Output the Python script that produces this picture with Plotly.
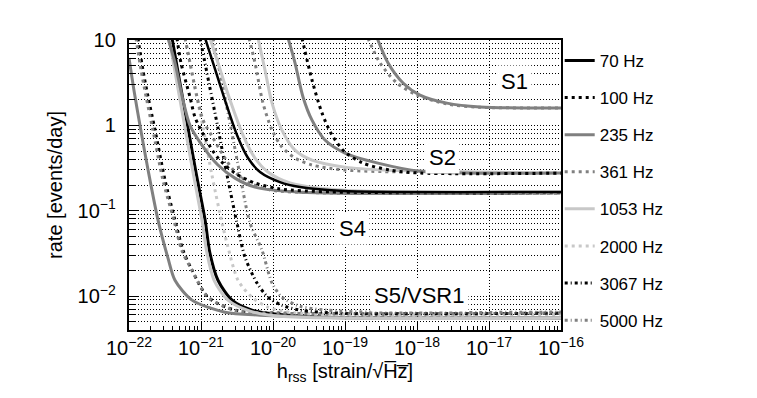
import plotly.graph_objects as go

FREQS = ["70 Hz", "100 Hz", "235 Hz", "361 Hz", "1053 Hz", "2000 Hz", "3067 Hz", "5000 Hz"]

# ---- S5/VSR1 ----
S5_70_H = [3.96e-22, 5.1e-22, 6.6e-22, 8.5e-22, 1.14e-21, 1.33e-21, 1.72e-21, 2.7e-21, 5.1e-21, 1.07e-20, 5.27e-20, 1e-16]
S5_70_R = [10.5, 3.13, 0.93, 0.284, 0.0776, 0.0318, 0.0153, 0.00895, 0.00684, 0.00614, 0.00566, 0.0055]
S5_100_H = [1.33e-22, 1.56e-22, 1.84e-22, 2.3e-22, 3.16e-22, 4.35e-22, 5.62e-22, 7.5e-22, 1.25e-21, 2.96e-21, 1.25e-20, 1e-16]
S5_100_R = [10.5, 4.45, 2.15, 0.88, 0.229, 0.0776, 0.0345, 0.0201, 0.0097, 0.00684, 0.0063, 0.0063]
S5_235_H = [1e-22, 1.17e-22, 1.42e-22, 1.84e-22, 2.53e-22, 3.48e-22, 4.35e-22, 7.5e-22, 2.15e-21, 6.6e-21, 6.2e-20, 1e-16]
S5_235_R = [6.15, 2.6, 1.0, 0.30, 0.0776, 0.0278, 0.0153, 0.00895, 0.00647, 0.00597, 0.00566, 0.0055]
S5_361_H = [1.25e-22, 1.47e-22, 1.73e-22, 2.15e-22, 2.96e-22, 4.2e-22, 5.4e-22, 7.5e-22, 1.25e-21, 2.96e-21, 1.25e-20, 1e-16]
S5_361_R = [10.5, 4.45, 2.15, 0.88, 0.229, 0.0776, 0.0345, 0.0201, 0.0097, 0.0068, 0.0063, 0.0063]
S5_1053_H = [3.6e-22, 4.64e-22, 6.0e-22, 7.74e-22, 1.03e-21, 1.21e-21, 1.52e-21, 2.37e-21, 4.8e-21, 1.25e-20, 1e-16]
S5_1053_R = [10.5, 3.13, 0.93, 0.284, 0.0776, 0.0318, 0.0153, 0.00895, 0.00666, 0.0058, 0.0055]
S5_2000_H = [6.0e-22, 8.0e-22, 1.07e-21, 1.42e-21, 1.96e-21, 2.37e-21, 3.27e-21, 5.1e-21, 8.5e-21, 2.22e-20, 1e-16]
S5_2000_R = [10.5, 3.13, 0.93, 0.261, 0.0716, 0.0374, 0.0153, 0.0097, 0.0074, 0.0063, 0.0061]
S5_3067_H = [9.7e-22, 1.29e-21, 1.72e-21, 2.3e-21, 3.16e-21, 4.08e-21, 6.0e-21, 8.5e-21, 1.33e-20, 2.37e-20, 8.5e-20, 1e-16]
S5_3067_R = [10.5, 3.13, 0.93, 0.261, 0.0716, 0.0286, 0.0142, 0.0097, 0.0078, 0.00684, 0.0063, 0.0063]
S5_5000_H = [1.47e-21, 1.96e-21, 2.61e-21, 3.48e-21, 4.8e-21, 7.03e-21, 9.7e-21, 1.33e-20, 2.37e-20, 8.5e-20, 1e-16]
S5_5000_R = [10.5, 3.13, 0.93, 0.261, 0.0716, 0.0345, 0.0142, 0.0097, 0.0076, 0.00666, 0.0065]

# ---- S4 ----
S4_70_H = [1.14e-21, 1.47e-21, 2.15e-21, 3.16e-21, 4.5e-21, 6.6e-21, 1.25e-20, 2.37e-20, 1.0e-19, 1e-16]
S4_70_R = [10.5, 5.4, 1.98, 0.77, 0.414, 0.284, 0.216, 0.189, 0.170, 0.166]
S4_100_H = [4.64e-22, 5.27e-22, 7.03e-22, 8.25e-22, 1.14e-21, 1.72e-21, 2.96e-21, 5.62e-21, 1.25e-20, 6.2e-20, 1e-16]
S4_100_R = [10.5, 5.4, 2.15, 1.25, 0.71, 0.414, 0.276, 0.211, 0.180, 0.166, 0.162]
S4_235_H = [3.48e-22, 4.35e-22, 5.62e-22, 7.03e-22, 1.03e-21, 1.72e-21, 2.96e-21, 5.62e-21, 2.37e-20, 1e-16]
S4_235_R = [10.5, 5.4, 1.98, 1.0, 0.588, 0.343, 0.241, 0.189, 0.165, 0.162]
S4_361_H = [6.0e-22, 7.03e-22, 8.8e-22, 1.07e-21, 1.47e-21, 2.15e-21, 2.96e-21, 4.8e-21, 9.1e-21, 4.5e-20, 1e-16]
S4_361_R = [10.5, 5.4, 2.15, 1.15, 0.71, 0.414, 0.284, 0.211, 0.175, 0.162, 0.16]
S4_1053_H = [1.33e-21, 1.72e-21, 2.53e-21, 3.83e-21, 5.62e-21, 8.5e-21, 1.72e-20, 4.5e-20, 1.6e-19, 1e-16]
S4_1053_R = [10.5, 5.4, 1.98, 0.77, 0.414, 0.284, 0.211, 0.183, 0.170, 0.166]

# ---- S2 ----
S2_100_H = [2.53e-20, 3.48e-20, 4.8e-20, 6.6e-20, 1.0e-19, 1.78e-19, 4.2e-19, 1.1e-18, 1e-16]
S2_100_R = [10.5, 3.4, 1.39, 0.77, 0.486, 0.361, 0.299, 0.276, 0.275]
S2_235_H = [1.62e-20, 2.02e-20, 2.61e-20, 3.48e-20, 5.27e-20, 1.0e-19, 2.87e-19, 1.1e-18, 1e-16]
S2_235_R = [10.5, 5.4, 2.15, 1.15, 0.673, 0.473, 0.361, 0.29, 0.276]
S2_361_H = [4.64e-21, 5.62e-21, 7.26e-21, 9.7e-21, 1.33e-20, 2.02e-20, 3.48e-20, 1.0e-19, 1e-16]
S2_361_R = [10.5, 5.4, 1.82, 0.88, 0.557, 0.414, 0.343, 0.299, 0.276]
S2_1053_H = [6.2e-21, 7.74e-21, 9.7e-21, 1.33e-20, 2.02e-20, 3.48e-20, 1.0e-19, 3.6e-19, 8.8e-17]
S2_1053_R = [10.5, 4.45, 1.82, 0.88, 0.513, 0.392, 0.324, 0.299, 0.276]

# ---- S1 ----
S1_235_H = [2.8e-19, 3.95e-19, 6.4e-19, 1.1e-18, 2.6e-18, 7.5e-18, 1e-16]
S1_235_R = [10.5, 5.4, 3.13, 2.26, 1.82, 1.64, 1.6]
S1_361_H = [2.08e-19, 3.06e-19, 5.27e-19, 1.0e-18, 2.6e-18, 7.5e-18, 1e-16]
S1_361_R = [10.5, 5.4, 3.13, 2.26, 1.78, 1.63, 1.6]

RUN_LABELS = ["S1", "S2", "S4", "S5/VSR1"]

GRAY = "#808080"
LIGHT = "#c8c8c8"
STYLE = {
    "70 Hz": ("#000000", "solid"),
    "100 Hz": ("#000000", "3px,4px"),
    "235 Hz": (GRAY, "solid"),
    "361 Hz": (GRAY, "3px,4px"),
    "1053 Hz": (LIGHT, "solid"),
    "2000 Hz": (LIGHT, "3px,4px"),
    "3067 Hz": ("#000000", "3px,3px,1px,3px"),
    "5000 Hz": (GRAY, "3px,3px,1px,3px"),
}

curves = [
    ("S5", "70 Hz", S5_70_H, S5_70_R),
    ("S5", "100 Hz", S5_100_H, S5_100_R),
    ("S5", "235 Hz", S5_235_H, S5_235_R),
    ("S5", "361 Hz", S5_361_H, S5_361_R),
    ("S5", "1053 Hz", S5_1053_H, S5_1053_R),
    ("S5", "2000 Hz", S5_2000_H, S5_2000_R),
    ("S5", "3067 Hz", S5_3067_H, S5_3067_R),
    ("S5", "5000 Hz", S5_5000_H, S5_5000_R),
    ("S4", "235 Hz", S4_235_H, S4_235_R),
    ("S4", "361 Hz", S4_361_H, S4_361_R),
    ("S4", "100 Hz", S4_100_H, S4_100_R),
    ("S4", "1053 Hz", S4_1053_H, S4_1053_R),
    ("S4", "70 Hz", S4_70_H, S4_70_R),
    ("S2", "361 Hz", S2_361_H, S2_361_R),
    ("S2", "1053 Hz", S2_1053_H, S2_1053_R),
    ("S2", "235 Hz", S2_235_H, S2_235_R),
    ("S2", "100 Hz", S2_100_H, S2_100_R),
    ("S1", "361 Hz", S1_361_H, S1_361_R),
    ("S1", "235 Hz", S1_235_H, S1_235_R),
]

fig = go.Figure()
for run, freq, h, r in curves:
    color, dash = STYLE[freq]
    width = 2.5 if (run == "S4" and freq == "70 Hz") else 3
    fig.add_trace(go.Scatter(
        x=h, y=r, mode="lines", name=freq, legendgroup=freq,
        showlegend=(run == "S5"),
        line=dict(color=color, dash=dash, width=width, shape="spline", smoothing=0.8),
        hoverinfo="skip",
    ))

FONT = "Liberation Sans, Arial, Helvetica, sans-serif"

# the page body adds an 8px offset; margins compensate so the plot lands where the reference has it
fig.update_layout(
    width=757, height=398,
    margin=dict(l=121, r=204, t=32, b=76, autoexpand=False),
    paper_bgcolor="white", plot_bgcolor="white",
    font=dict(family=FONT, color="black", size=20),
    showlegend=True,
    legend=dict(x=0.997, xanchor="left", y=0.99, yanchor="top",
                font=dict(size=17, family=FONT), tracegroupgap=12,
                bgcolor="rgba(0,0,0,0)", itemwidth=30, maxheight=380),
    xaxis=dict(
        type="log", range=[-22, -16], dtick=1, exponentformat="power",
        showline=True, linecolor="black", linewidth=2, mirror=True,
        ticks="inside", ticklen=8, tickcolor="black", tickwidth=1,
        showgrid=True, gridcolor="black", gridwidth=1, griddash="1px,2px",
        minor=dict(ticks="inside", ticklen=4, tickcolor="black", showgrid=False),
        tickfont=dict(size=16, family=FONT), zeroline=False,
        title=dict(text="h<sub>rss</sub> [strain/√H\u0305z\u0305]",
                   font=dict(size=20, family=FONT), standoff=6),
    ),
    yaxis=dict(
        type="log", range=[-2.398, 1], dtick=1, exponentformat="power",
        showline=True, linecolor="black", linewidth=2, mirror=True,
        ticks="inside", ticklen=10, tickcolor="black", tickwidth=1,
        showgrid=True, gridcolor="black", gridwidth=1, griddash="1px,2px",
        minor=dict(ticks="inside", ticklen=6, tickcolor="black", showgrid=True,
                   gridcolor="black", gridwidth=1, griddash="1px,2px"),
        tickfont=dict(size=16, family=FONT), zeroline=False,
        ticklabelstandoff=8,
        title=dict(text="rate [events/day]", font=dict(size=20, family=FONT), standoff=10),
    ),
)

ann_pos = {"S1": (-16.64, 0.508), "S2": (-17.65, -0.372), "S4": (-18.89, -1.204), "S5/VSR1": (-17.96, -1.989)}
for lab in RUN_LABELS:
    x, y = ann_pos[lab]
    fig.add_annotation(x=x, y=y, xref="x", yref="y", text=lab, showarrow=False,
                       font=dict(size=22, family=FONT, color="black"),
                       bgcolor="white", borderpad=3)

fig.write_html("out.html")
